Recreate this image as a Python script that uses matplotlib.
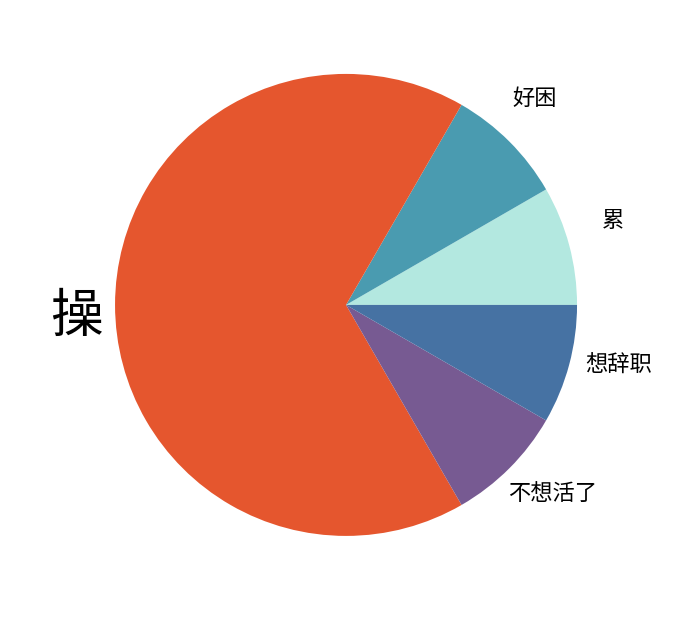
import numpy as np
import matplotlib.pyplot as plt

plt.rcParams['font.family'] = ['Noto Sans CJK SC', 'DejaVu Sans']

labels = ['累', '好困', '操', '不想活了', '想辞职']
values = [1, 1, 8, 1, 1]
colors = ['#b3e8e0', '#4a9bb0', '#e5562e', '#775a92', '#4672a3']
label_sizes = [16, 16, 38, 16, 16]

fig = plt.figure(figsize=(6.9, 6.2), dpi=100)
ax = fig.add_axes([0, 0, 1, 1])

wedges, texts = ax.pie(values, colors=colors, startangle=0, counterclock=True,
                       labels=labels, labeldistance=1.21,
                       wedgeprops=dict(linewidth=0))

# nudge labels a little counterclockwise, centred on their anchor
for w, t, fs in zip(wedges, texts, label_sizes):
    mid = np.deg2rad((w.theta1 + w.theta2) / 2 + 2.5)
    r = 1.17 if fs > 20 else 1.21
    t.set_position((r * np.cos(mid), r * np.sin(mid)))
    t.set_ha('center')
    t.set_va('center')
    t.set_fontsize(fs)

ax.set_xlim(-1.498, 1.489)
ax.set_ylim(-1.364, 1.320)
ax.set_aspect('equal')
ax.axis('off')

fig.savefig('out.png', dpi=100, facecolor='white')
